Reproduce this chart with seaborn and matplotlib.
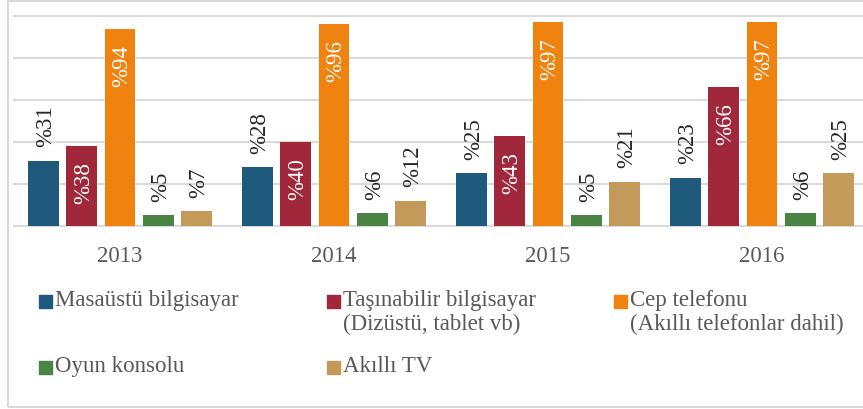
import pandas as pd
import matplotlib
matplotlib.use("Agg")
import matplotlib.pyplot as plt
import seaborn as sns

# data
years = ["2013", "2014", "2015", "2016"]
devices = ["Masaüstü bilgisayar", "Taşınabilir bilgisayar", "Cep telefonu",
           "Oyun konsolu", "Akıllı TV"]
legend_labels = ["Masaüstü bilgisayar", "Taşınabilir bilgisayar\n(Dizüstü, tablet vb)",
                 "Cep telefonu\n(Akıllı telefonlar dahil)", "Oyun konsolu", "Akıllı TV"]
masaustu = [31, 28, 25, 23]
tasinabilir = [38, 40, 43, 66]
cep = [94, 96, 97, 97]
oyun = [5, 6, 5, 6]
akilli_tv = [7, 12, 21, 25]
colors = ["#1f5a7c", "#a1283a", "#f0820f", "#4a8442", "#c49a5b"]
inside = ["Taşınabilir bilgisayar", "Cep telefonu"]

rows = []
for dev, vals in zip(devices, [masaustu, tasinabilir, cep, oyun, akilli_tv]):
    for y, v in zip(years, vals):
        rows.append({"year": y, "device": dev, "value": v})
df = pd.DataFrame(rows)

sns.set_style("white")
plt.rcParams["font.family"] = ["Liberation Serif", "DejaVu Serif"]

W, H = 863, 410
fig = plt.figure(figsize=(W / 100, H / 100), dpi=100)
ax = fig.add_axes([13 / W, (H - 227.6) / H, 850 / W, 211.3 / H])

sns.barplot(data=df, x="year", y="value", hue="device", hue_order=devices,
            order=years, palette=colors, width=0.894, gap=0.2,
            saturation=1, legend=False, ax=ax, edgecolor="none")

ax.set_ylim(-0.3, 100.3)
ax.set_xlim(-0.5, 3.472)
ax.set_yticks([0, 20, 40, 60, 80, 100])
ax.set_yticklabels([])
ax.yaxis.grid(True, color="#d9d9d9", lw=1.4)
ax.set_axisbelow(True)
for s in ax.spines.values():
    s.set_visible(False)
ax.set_xlabel("")
ax.set_ylabel("")
ax.tick_params(axis="x", length=0, pad=13.5, labelsize=16.5, labelcolor="#595959")
ax.tick_params(axis="y", length=0)

# value labels, rotated
for dev, cont in zip(devices, ax.containers):
    for bar in cont:
        v = bar.get_height()
        xc = bar.get_x() + bar.get_width() / 2
        if dev in inside:
            ax.annotate(f"%{v:.0f}", (xc, v), xytext=(1.5, -11),
                        textcoords="offset points", rotation=90,
                        ha="center", va="top", color="white", fontsize=16.5)
        else:
            ax.annotate(f"%{v:.0f}", (xc, v), xytext=(1.5, 10.5),
                        textcoords="offset points", rotation=90,
                        ha="center", va="bottom", color="#262626", fontsize=16.5)

# legend laid out like the original (3 columns, 2 rows)
leg_pos = [(39, 302), (327, 302), (614, 302), (39, 368), (327, 368)]
for (px, py), lab, col in zip(leg_pos, legend_labels, colors):
    fig.patches.append(plt.Rectangle((px / W, 1 - (py + 6.5) / H), 13 / W, 13 / H,
                                     transform=fig.transFigure, color=col))
    fig.text((px + 16) / W, 1 - (py - 12) / H, lab, ha="left", va="top",
             fontsize=16.5, color="#595959", linespacing=1.15)

# outer frame
fig.patches.append(plt.Rectangle((8 / W, 2 / H), 1.2, 406 / H, transform=fig.transFigure,
                                 fill=False, edgecolor="#d9d9d9", lw=1.5))

fig.savefig("out.png", dpi=100)
